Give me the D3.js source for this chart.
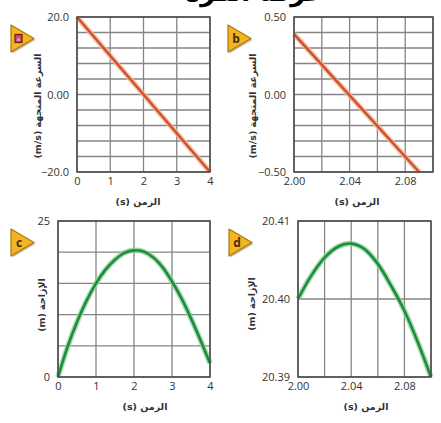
<!DOCTYPE html>
<html><head><meta charset="utf-8">
<script src="https://cdn.jsdelivr.net/npm/d3@7"></script>
<style>
html,body{margin:0;padding:0;background:#fff;}
svg{display:block;}
</style></head>
<body>
<script>
// ---------- data ----------
const panelLetters = ["a", "b", "c", "d"];

const aTime = [0, 4];
const aVelocity = [20, -20];
const aXTicks = [0, 1, 2, 3, 4];
const aXTickLabels = ["0", "1", "2", "3", "4"];
const aYTicks = [20, 0, -20];
const aYTickLabels = ["20.0", "0.00", "\u221220.0"];
const aXGrid = [0, 1, 2, 3, 4];
const aYGrid = [-20, -16, -12, -8, -4, 0, 4, 8, 12, 16, 20];

const bTime = [2.00, 2.09];
const bVelocity = [0.39, -0.50];
const bXTicks = [2.00, 2.04, 2.08];
const bXTickLabels = ["2.00", "2.04", "2.08"];
const bYTicks = [0.5, 0, -0.5];
const bYTickLabels = ["0.50", "0.00", "\u22120.50"];
const bXGrid = [2.00, 2.02, 2.04, 2.06, 2.08, 2.10];
const bYGrid = [-0.5, -0.4, -0.3, -0.2, -0.1, 0, 0.1, 0.2, 0.3, 0.4, 0.5];

const cTime = [0, 0.25, 0.5, 0.75, 1, 1.25, 1.5, 1.75, 2, 2.25, 2.5, 2.75, 3, 3.25, 3.5, 3.75, 4];
const cPosition = [0, 4.8, 8.8, 12.2, 15.0, 17.2, 18.8, 19.9, 20.3, 20.1, 19.2, 17.6, 15.3, 12.6, 9.4, 5.9, 2.2];
const cXTicks = [0, 1, 2, 3, 4];
const cXTickLabels = ["0", "1", "2", "3", "4"];
const cYTicks = [25, 0];
const cYTickLabels = ["25", "0"];
const cXGrid = [0, 1, 2, 3, 4];
const cYGrid = [0, 5, 10, 15, 20, 25];

const dTime = [2.00, 2.01, 2.02, 2.03, 2.04, 2.05, 2.06, 2.07, 2.08, 2.09, 2.10];
const dPosition = [20.4000, 20.4030, 20.4053, 20.4067, 20.4071, 20.4064, 20.4045, 20.4017, 20.3985, 20.3945, 20.3900];
const dXTicks = [2.00, 2.04, 2.08];
const dXTickLabels = ["2.00", "2.04", "2.08"];
const dYTicks = [20.41, 20.40, 20.39];
const dYTickLabels = ["20.41", "20.40", "20.39"];
const dXGrid = [2.00, 2.02, 2.04, 2.06, 2.08, 2.10];
const dYGrid = [20.39, 20.40, 20.41];

const xTitle = "الزمن (s)";
const velocityTitle = "السرعة المتجهة (m/s)";
const positionTitle = "الإزاحة (m)";
const headerText = "حركة الكرة";

// ---------- drawing ----------
const W = 441, H = 423;
const svg = d3.select("body").append("svg").attr("width", W).attr("height", H);

const panels = [
  {letter: panelLetters[0], x: aTime, y: aVelocity, xd: [0, 4], yd: [-20, 20], xt: aXTicks, xtl: aXTickLabels, yt: aYTicks, ytl: aYTickLabels, xg: aXGrid, yg: aYGrid,
   box: [77, 210, 17, 172], color: "red", yTitle: velocityTitle, badge: [11, 25], yTitleX: 38, yTitleY: 106, xTitleX: 138},
  {letter: panelLetters[1], x: bTime, y: bVelocity, xd: [2.00, 2.10], yd: [-0.5, 0.5], xt: bXTicks, xtl: bXTickLabels, yt: bYTicks, ytl: bYTickLabels, xg: bXGrid, yg: bYGrid,
   box: [294, 433, 17, 172], color: "red", yTitle: velocityTitle, badge: [228, 25], yTitleX: 253, yTitleY: 106, xTitleX: 357},
  {letter: panelLetters[2], x: cTime, y: cPosition, xd: [0, 4], yd: [0, 25], xt: cXTicks, xtl: cXTickLabels, yt: cYTicks, ytl: cYTickLabels, xg: cXGrid, yg: cYGrid,
   box: [58, 210, 221, 377], color: "green", yTitle: positionTitle, badge: [11, 229], yTitleX: 42, yTitleY: 305, xTitleX: 145},
  {letter: panelLetters[3], x: dTime, y: dPosition, xd: [2.00, 2.10], yd: [20.39, 20.41], xt: dXTicks, xtl: dXTickLabels, yt: dYTicks, ytl: dYTickLabels, xg: dXGrid, yg: dYGrid,
   box: [298, 431, 221, 377], color: "green", yTitle: positionTitle, badge: [229, 229], yTitleX: 252, yTitleY: 304, xTitleX: 366}
];

const tickFont = "'Open Sans', 'DejaVu Sans', sans-serif";
const arFont = "'DejaVu Sans', sans-serif";

// header fragment (cut off at the top edge, as in the source)
svg.append("text").attr("x", 255).attr("y", 1).attr("text-anchor", "middle")
  .attr("font-family", arFont).attr("font-weight", "bold").attr("font-size", 26)
  .attr("fill", "#000").attr("direction", "rtl").text(headerText);

panels.forEach(p => {
  const [x0, x1, y0, y1] = p.box;
  const xs = d3.scaleLinear().domain(p.xd).range([x0, x1]);
  const ys = d3.scaleLinear().domain(p.yd).range([y1, y0]);
  const g = svg.append("g");

  g.append("rect").attr("x", x0).attr("y", y0).attr("width", x1 - x0).attr("height", y1 - y0).attr("fill", "#fff");

  // grid
  g.selectAll(".vg").data(p.xg).enter().append("line")
    .attr("x1", d => xs(d)).attr("x2", d => xs(d)).attr("y1", y0).attr("y2", y1)
    .attr("stroke", "#858585").attr("stroke-width", 1.3);
  g.selectAll(".hg").data(p.yg).enter().append("line")
    .attr("x1", x0).attr("x2", x1).attr("y1", d => ys(d)).attr("y2", d => ys(d))
    .attr("stroke", "#858585").attr("stroke-width", 1.3);

  // curve
  const pts = p.x.map((t, i) => [t, p.y[i]]);
  const line = d3.line().x(d => xs(d[0])).y(d => ys(d[1])).curve(d3.curveCatmullRom.alpha(0.5));
  const halo = p.color === "red" ? "#f7b98e" : "#8fd39a";
  const main = p.color === "red" ? "#cf5039" : "#1f8c3c";
  g.append("path").datum(pts).attr("d", line).attr("fill", "none").attr("stroke", halo).attr("stroke-width", 5.5).attr("stroke-opacity", 0.8);
  g.append("path").datum(pts).attr("d", line).attr("fill", "none").attr("stroke", main).attr("stroke-width", 2.6);

  // frame
  g.append("rect").attr("x", x0).attr("y", y0).attr("width", x1 - x0).attr("height", y1 - y0)
    .attr("fill", "none").attr("stroke", "#4a4a4a").attr("stroke-width", 1.5);

  // axes using d3 axis generators
  const yAxis = d3.axisLeft(ys).tickValues(p.yt).tickFormat((d, i) => p.ytl[i]).tickSize(0).tickPadding(8);
  const ya = g.append("g").attr("transform", `translate(${x0},0)`).call(yAxis);
  ya.select(".domain").remove();
  ya.selectAll("text").attr("font-family", tickFont).attr("font-size", 11).attr("fill", "#333");

  const xAxis = d3.axisBottom(xs).tickValues(p.xt).tickFormat((d, i) => p.xtl[i]).tickSize(0).tickPadding(5);
  const xa = g.append("g").attr("transform", `translate(0,${y1})`).call(xAxis);
  xa.select(".domain").remove();
  xa.selectAll("text").attr("font-family", tickFont).attr("font-size", 11).attr("fill", "#333");

  // titles
  g.append("text").attr("x", p.xTitleX).attr("y", y1 + 33).attr("text-anchor", "middle")
    .attr("direction", "rtl").attr("font-family", arFont).attr("font-size", 9.5).attr("font-weight", "bold")
    .attr("fill", "#333").text(xTitle);
  g.append("text").attr("transform", `translate(${p.yTitleX},${p.yTitleY}) rotate(-90)`)
    .attr("text-anchor", "middle").attr("dy", "0.35em")
    .attr("direction", "rtl").attr("font-family", arFont).attr("font-size", 9.5).attr("font-weight", "bold")
    .attr("fill", "#333").text(p.yTitle);

  // badge
  const [bx, by] = p.badge;
  const bw = 23, bh = 27;
  const tri = `M${bx},${by} L${bx + bw},${by + bh / 2} L${bx},${by + bh} Z`;
  g.append("path").attr("d", tri).attr("transform", "translate(1.5,1.5)").attr("fill", "#8a6a3a").attr("opacity", 0.45);
  g.append("path").attr("d", tri).attr("fill", "#f3b520").attr("stroke", "#a8770f").attr("stroke-width", 1.2).attr("stroke-linejoin", "round");
  if (p.letter === "a") {
    g.append("rect").attr("x", bx + 4).attr("y", by + bh / 2 - 4).attr("width", 7).attr("height", 8)
      .attr("fill", "#c4506a").attr("stroke", "#6e1a1a").attr("stroke-width", 1.2);
    g.append("text").attr("x", bx + 7.5).attr("y", by + bh / 2).attr("dy", "0.35em").attr("text-anchor", "middle")
      .attr("font-family", tickFont).attr("font-size", 6).attr("fill", "#fce").text(p.letter);
  } else {
    g.append("text").attr("x", bx + 8).attr("y", by + bh / 2).attr("dy", "0.35em").attr("text-anchor", "middle")
      .attr("font-family", tickFont).attr("font-weight", "bold").attr("font-size", 12).attr("fill", "#4a2a10").text(p.letter);
  }
});
</script>
</body></html>
